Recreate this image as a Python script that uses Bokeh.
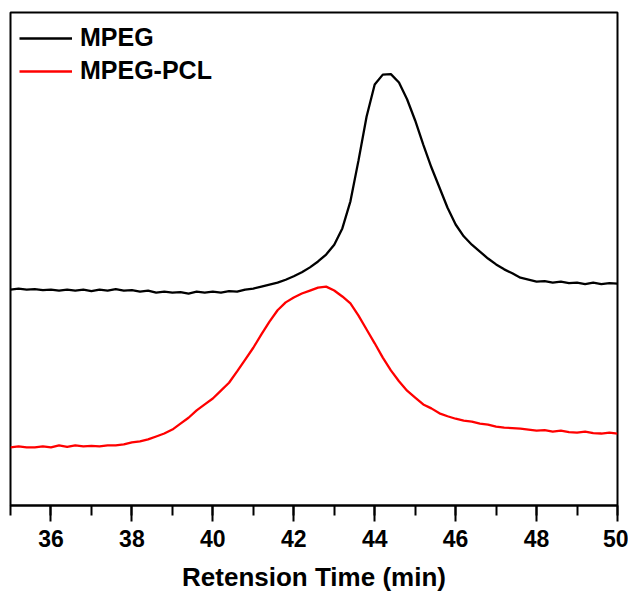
from bokeh.plotting import figure
from bokeh.models import SingleIntervalTicker, Legend, LegendItem, Range1d
from bokeh.embed import file_html
from bokeh.resources import INLINE

time_min = [35.0, 35.2, 35.4, 35.6, 35.8, 36.0, 36.2, 36.4, 36.6, 36.8,
            37.0, 37.2, 37.4, 37.6, 37.8, 38.0, 38.2, 38.4, 38.6, 38.8,
            39.0, 39.2, 39.4, 39.6, 39.8, 40.0, 40.2, 40.4, 40.6, 40.8,
            41.0, 41.2, 41.4, 41.6, 41.8, 42.0, 42.2, 42.4, 42.6, 42.8,
            43.0, 43.2, 43.4, 43.6, 43.8, 44.0, 44.2, 44.4, 44.6, 44.8,
            45.0, 45.2, 45.4, 45.6, 45.8, 46.0, 46.2, 46.4, 46.6, 46.8,
            47.0, 47.2, 47.4, 47.6, 47.8, 48.0, 48.2, 48.4, 48.6, 48.8,
            49.0, 49.2, 49.4, 49.6, 49.8, 50.0]

mpeg = [43.8, 44.0, 43.8, 43.9, 43.7, 43.8, 43.6, 43.8, 43.6, 43.8,
        43.5, 43.8, 43.6, 43.9, 43.6, 43.7, 43.4, 43.6, 43.2, 43.4,
        43.2, 43.3, 43.0, 43.4, 43.2, 43.4, 43.2, 43.5, 43.4, 43.8,
        44.0, 44.4, 44.8, 45.2, 45.8, 46.5, 47.3, 48.3, 49.5, 50.9,
        52.9, 56.2, 61.7, 70.0, 78.9, 85.4, 87.4, 87.5, 85.8, 82.4,
        78.1, 73.2, 68.6, 64.5, 60.4, 57.0, 54.6, 52.9, 51.5, 50.1,
        48.9, 47.9, 47.1, 46.2, 45.8, 45.4, 45.5, 45.2, 45.4, 45.1,
        45.2, 44.9, 45.2, 44.9, 45.1, 45.0]

mpeg_pcl = [11.8, 12.0, 11.8, 11.8, 12.0, 11.8, 12.2, 11.9, 12.2, 12.0,
            12.1, 12.0, 12.2, 12.2, 12.4, 12.8, 13.0, 13.4, 14.0, 14.6,
            15.4, 16.6, 17.8, 19.3, 20.5, 21.7, 23.3, 24.9, 27.2, 29.6,
            32.0, 34.7, 37.3, 39.6, 41.2, 42.2, 43.0, 43.6, 44.2, 44.4,
            43.6, 42.4, 41.0, 38.5, 35.7, 32.9, 30.0, 27.4, 25.2, 23.3,
            21.9, 20.5, 19.7, 18.7, 18.1, 17.6, 17.2, 17.0, 16.6, 16.4,
            16.0, 15.8, 15.7, 15.6, 15.4, 15.2, 15.3, 15.0, 15.2, 14.9,
            14.8, 15.0, 14.7, 14.6, 14.8, 14.6]

series_names = ["MPEG", "MPEG-PCL"]
series_colors = ["#000000", "#ff0000"]
x_label = "Retension Time (min)"

FONT = "Liberation Sans"

p = figure(width=628, height=599, output_backend="svg", toolbar_location=None,
           x_range=Range1d(35, 50), y_range=Range1d(0, 100),
           min_border_left=10, min_border_right=11, min_border_top=12,
           min_border_bottom=94)
p.background_fill_color = "white"
p.border_fill_color = "white"
p.outline_line_color = "black"
p.outline_line_width = 2
p.xgrid.visible = False
p.ygrid.visible = False
p.yaxis.visible = False

r1 = p.line(time_min, mpeg, line_color=series_colors[0], line_width=2.3)
r2 = p.line(time_min, mpeg_pcl, line_color=series_colors[1], line_width=2.3)

ax = p.xaxis[0]
ax.ticker = SingleIntervalTicker(interval=2, num_minor_ticks=2)
ax.axis_line_width = 2
ax.major_tick_line_width = 2
ax.minor_tick_line_width = 2
ax.major_tick_in = 0
ax.major_tick_out = 16
ax.minor_tick_in = 0
ax.minor_tick_out = 10
ax.major_label_text_font = FONT
ax.major_label_text_font_style = "bold"
ax.major_label_text_font_size = "23px"
ax.major_label_text_color = "black"
ax.major_label_standoff = 8
ax.axis_label = x_label
ax.axis_label_text_font = FONT
ax.axis_label_text_font_style = "bold"
ax.axis_label_text_font_size = "26px"
ax.axis_label_text_color = "black"
ax.axis_label_standoff = 12

legend = Legend(items=[LegendItem(label=series_names[0], renderers=[r1]),
                       LegendItem(label=series_names[1], renderers=[r2])],
                location=(9, 420), padding=0, margin=0, spacing=4,
                glyph_width=53, glyph_height=28, label_height=28,
                label_standoff=8, border_line_color=None,
                background_fill_alpha=0,
                label_text_font=FONT, label_text_font_style="bold",
                label_text_font_size="25px", label_text_color="black")
p.add_layout(legend, "center")

open("out.html", "w").write(file_html(p, INLINE))
